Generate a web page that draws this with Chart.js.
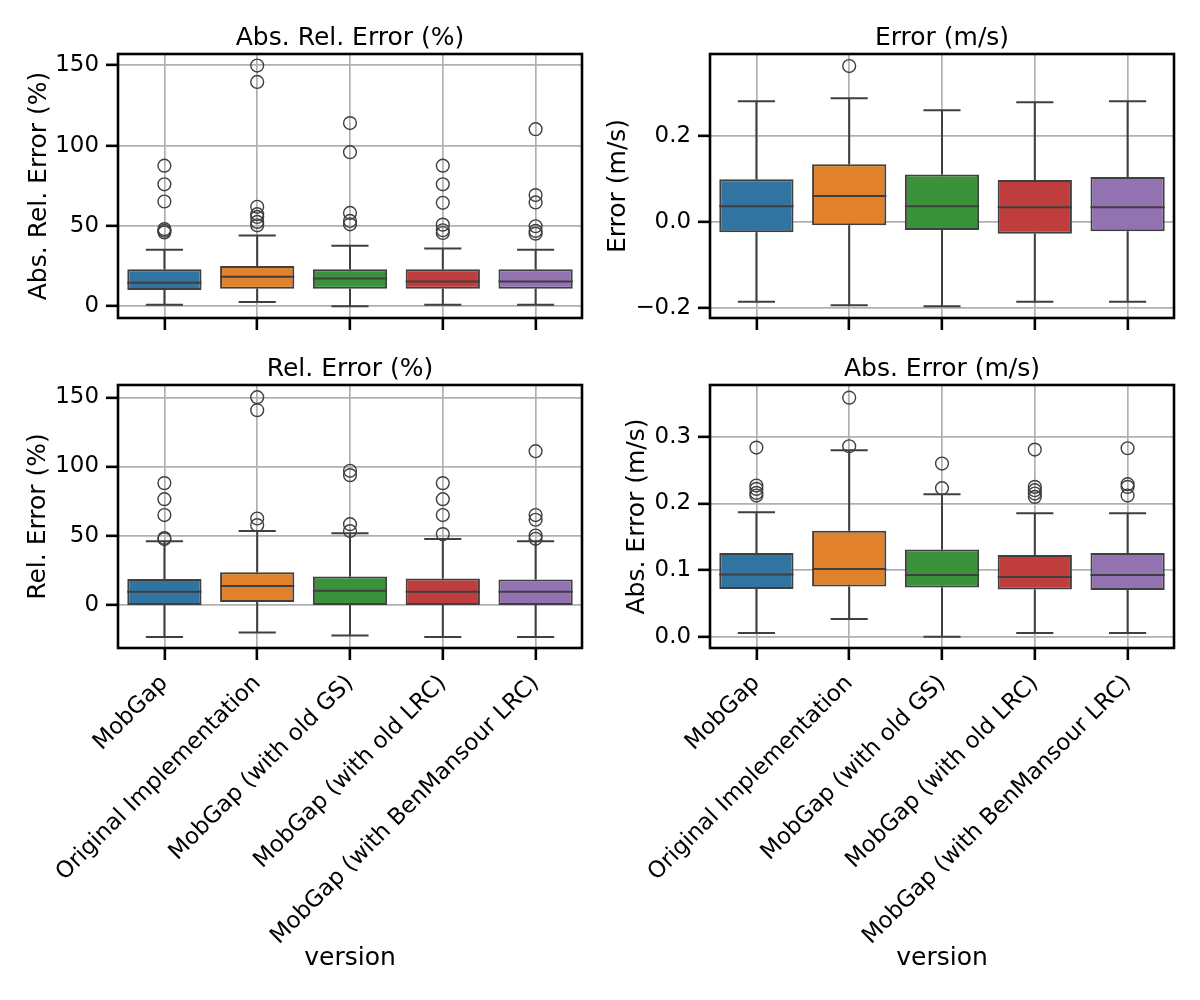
<!DOCTYPE html>
<html>
<head>
<meta charset="utf-8">
<script src="https://cdn.jsdelivr.net/npm/chart.js@4.4.1/dist/chart.umd.min.js"></script>
<style>
  body { margin: 0; background: #fff; }
  #fig { position: relative; width: 1200px; height: 1000px; }
  #fig canvas { position: absolute; }
</style>
</head>
<body>
<div id="fig">
  <canvas id="absRelChart" width="600" height="340" style="left:0;top:0"></canvas>
  <canvas id="errChart" width="600" height="340" style="left:600px;top:0"></canvas>
  <canvas id="relChart" width="600" height="660" style="left:0;top:340px"></canvas>
  <canvas id="absErrChart" width="600" height="660" style="left:600px;top:340px"></canvas>
</div>
<script>
const versions = ["MobGap", "Original Implementation", "MobGap (with old GS)", "MobGap (with old LRC)", "MobGap (with BenMansour LRC)"];
const boxColors = ["#3274a1", "#e1812c", "#3a923a", "#c03d3e", "#9372b2"];

// Abs. Rel. Error (%)
const absRelLow = [0.9, 2.7, 0.0, 0.9, 0.9];
const absRelQ1 = [10.2, 10.9, 10.9, 10.9, 10.9];
const absRelMedian = [14.6, 18.4, 17.3, 15.4, 15.4];
const absRelQ3 = [23.1, 25.0, 23.1, 23.1, 23.1];
const absRelHigh = [35.2, 44.0, 37.7, 35.9, 35.2];
const absRelOutliers = [
  [87.5, 75.9, 65.2, 48, 47, 46],
  [149.8, 139.6, 61.9, 57.3, 55.6, 52.5, 50.4],
  [114, 95.9, 58.1, 53.1, 51],
  [87.5, 75.9, 64.4, 50.8, 47.3, 45.6],
  [110.2, 69.2, 64.6, 49.8, 46.9, 45.2]
];
const absRelTicks = [0, 50, 100, 150];

// Error (m/s)
const errLow = [-0.186, -0.194, -0.196, -0.186, -0.186];
const errQ1 = [-0.024, -0.008, -0.019, -0.028, -0.022];
const errMedian = [0.036, 0.060, 0.036, 0.034, 0.034];
const errQ3 = [0.099, 0.134, 0.110, 0.097, 0.104];
const errHigh = [0.280, 0.287, 0.259, 0.278, 0.280];
const errOutliers = [[], [0.362], [], [], []];
const errTicks = [-0.2, 0.0, 0.2];

// Rel. Error (%)
const relLow = [-23.4, -20.0, -22.2, -23.4, -23.4];
const relQ1 = [-0.2, 2.0, -0.2, -0.2, -0.2];
const relMedian = [9.4, 13.5, 10.1, 9.4, 9.4];
const relQ3 = [18.6, 23.6, 20.5, 19.0, 18.3];
const relHigh = [46.0, 53.3, 51.8, 47.5, 46.0];
const relOutliers = [
  [88, 76.4, 64.9, 48.3, 47.5],
  [150.2, 140.8, 62.4, 57.6],
  [96.9, 93.8, 58.3, 53.3],
  [88, 76.4, 64.9, 51.1],
  [111.1, 64.9, 61.5, 50.1, 47.7]
];
const relTicks = [0, 50, 100, 150];

// Abs. Error (m/s)
const absErrLow = [0.0055, 0.0265, 0.0, 0.0055, 0.0055];
const absErrQ1 = [0.0715, 0.0755, 0.074, 0.071, 0.070];
const absErrMedian = [0.0934, 0.1015, 0.0925, 0.0895, 0.0925];
const absErrQ3 = [0.1255, 0.159, 0.131, 0.1225, 0.1255];
const absErrHigh = [0.187, 0.280, 0.214, 0.1855, 0.1855];
const absErrOutliers = [
  [0.284, 0.227, 0.222, 0.216, 0.212],
  [0.359, 0.286],
  [0.260, 0.223],
  [0.281, 0.225, 0.220, 0.215, 0.210],
  [0.283, 0.229, 0.225, 0.212]
];
const absErrTicks = [0.0, 0.1, 0.2, 0.3];

Chart.defaults.font.family = "'DejaVu Sans', sans-serif";
Chart.defaults.color = "#000";

const lineColor = "#3f3f3f";
const gridColor = "#b0b0b0";

// whiskers, caps and medians drawn through the chart scales
const boxExtras = {
  id: "boxExtras",
  afterDatasetsDraw(chart, args, opts) {
    const { ctx, scales: { x, y } } = chart;
    const bars = chart.getDatasetMeta(0).data;
    ctx.save();
    ctx.strokeStyle = lineColor;
    ctx.lineWidth = 2;
    opts.median.forEach((m, i) => {
      const cx = x.getPixelForValue(i);
      const half = bars[i].width / 2;
      const capHalf = half / 2;
      const yLo = y.getPixelForValue(opts.low[i]);
      const yQ1 = y.getPixelForValue(opts.q1[i]);
      const yQ3 = y.getPixelForValue(opts.q3[i]);
      const yHi = y.getPixelForValue(opts.high[i]);
      const yMed = y.getPixelForValue(m);
      ctx.beginPath();
      ctx.moveTo(cx, yQ1); ctx.lineTo(cx, yLo);
      ctx.moveTo(cx - capHalf, yLo); ctx.lineTo(cx + capHalf, yLo);
      ctx.moveTo(cx, yQ3); ctx.lineTo(cx, yHi);
      ctx.moveTo(cx - capHalf, yHi); ctx.lineTo(cx + capHalf, yHi);
      ctx.moveTo(cx - half, yMed); ctx.lineTo(cx + half, yMed);
      ctx.stroke();
    });
    ctx.restore();
  },
  afterDraw(chart) {
    const { ctx, chartArea: a } = chart;
    ctx.save();
    ctx.strokeStyle = "#000";
    ctx.lineWidth = 2.6;
    ctx.strokeRect(a.left, a.top, a.right - a.left, a.bottom - a.top);
    ctx.restore();
  }
};

function makePanel(id, p) {
  const outlierPoints = [];
  p.outliers.forEach((vals, i) => vals.forEach(v => outlierPoints.push({ x: versions[i], y: v })));

  return new Chart(document.getElementById(id), {
    type: "bar",
    data: {
      labels: versions,
      datasets: [
        {
          data: p.q1.map((v, i) => [v, p.q3[i]]),
          backgroundColor: boxColors,
          borderColor: lineColor,
          borderWidth: 2,
          borderSkipped: false,
          categoryPercentage: 0.8,
          barPercentage: 1.0,
          order: 2
        },
        {
          type: "line",
          data: outlierPoints,
          showLine: false,
          pointStyle: "circle",
          pointRadius: 6.4,
          pointBorderWidth: 1.4,
          pointBorderColor: lineColor,
          pointBackgroundColor: "rgba(0,0,0,0)",
          order: 1
        }
      ]
    },
    options: {
      responsive: false,
      animation: false,
      layout: { padding: { top: p.padTop, right: p.padRight, left: 0, bottom: 0 } },
      plugins: {
        legend: { display: false },
        tooltip: { enabled: false },
        title: {
          display: true,
          fullSize: false,
          text: p.title,
          font: { size: 25, weight: "normal" },
          color: "#000",
          padding: { top: 0, bottom: 1 }
        },
        boxExtras: { low: p.low, q1: p.q1, median: p.median, q3: p.q3, high: p.high }
      },
      scales: {
        x: {
          type: "category",
          offset: true,
          grid: { offset: false, color: gridColor, lineWidth: 1.7, tickColor: "#000", tickWidth: 2.6, tickLength: 12 },
          border: { display: false },
          ticks: {
            display: p.showX,
            autoSkip: false,
            minRotation: 45,
            maxRotation: 45,
            padding: 10,
            font: { size: 22.9 }
          },
          title: {
            display: p.showX,
            text: "version",
            font: { size: 25 },
            padding: { top: 0, bottom: 27 }
          },
          afterFit: s => { s.height = p.xHeight; }
        },
        y: {
          type: "linear",
          min: p.min,
          max: p.max,
          grid: { color: gridColor, lineWidth: 1.7, tickColor: "#000", tickWidth: 2.6, tickLength: 12 },
          border: { display: false },
          afterBuildTicks: s => { s.ticks = p.ticks.map(v => ({ value: v })); },
          ticks: {
            padding: 7,
            font: { size: 22.9 },
            callback: v => v.toFixed(p.decimals).replace("-", "\u2212")
          },
          title: {
            display: true,
            text: p.title,
            font: { size: 25 },
            padding: { top: p.yTitlePad, bottom: 0 }
          },
          afterFit: s => { s.width = p.yWidth; }
        }
      }
    },
    plugins: [boxExtras]
  });
}

makePanel("absRelChart", {
  title: "Abs. Rel. Error (%)", low: absRelLow, q1: absRelQ1, median: absRelMedian, q3: absRelQ3, high: absRelHigh,
  outliers: absRelOutliers, ticks: absRelTicks, decimals: 0, min: -7.3, max: 157,
  padTop: 23, padRight: 18, yWidth: 118, xHeight: 22, yTitlePad: 24, showX: false
});
makePanel("errChart", {
  title: "Error (m/s)", low: errLow, q1: errQ1, median: errMedian, q3: errQ3, high: errHigh,
  outliers: errOutliers, ticks: errTicks, decimals: 1, min: -0.2235, max: 0.39,
  padTop: 23, padRight: 26, yWidth: 110, xHeight: 22, yTitlePad: 3, showX: false
});
makePanel("relChart", {
  title: "Rel. Error (%)", low: relLow, q1: relQ1, median: relMedian, q3: relQ3, high: relHigh,
  outliers: relOutliers, ticks: relTicks, decimals: 0, min: -31.3, max: 159,
  padTop: 14, padRight: 18, yWidth: 118, xHeight: 352, yTitlePad: 23, showX: true
});
makePanel("absErrChart", {
  title: "Abs. Error (m/s)", low: absErrLow, q1: absErrQ1, median: absErrMedian, q3: absErrQ3, high: absErrHigh,
  outliers: absErrOutliers, ticks: absErrTicks, decimals: 1, min: -0.017, max: 0.378,
  padTop: 14, padRight: 26, yWidth: 110, xHeight: 352, yTitlePad: 22, showX: true
});
</script>
</body>
</html>
